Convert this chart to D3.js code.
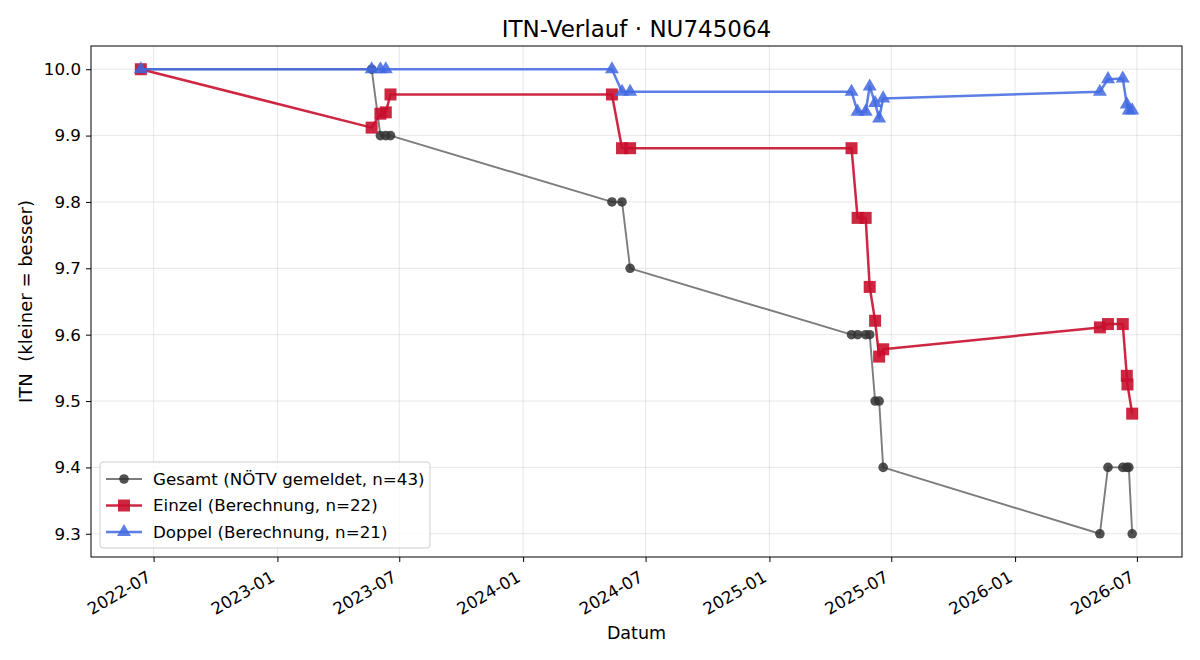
<!DOCTYPE html>
<html>
<head>
<meta charset="utf-8">
<script src="https://cdn.jsdelivr.net/npm/d3@7"></script>
<style>
  body { margin: 0; background: #fff; }
</style>
</head>
<body>
<svg id="chart" width="1200" height="660" font-family="DejaVu Sans"></svg>
<script>
// Gesamt (NÖTV gemeldet)
const gesamtDates = ['2022-06-12', '2023-05-21', '2023-06-03', '2023-06-11', '2023-06-18',
    '2024-05-12', '2024-05-27', '2024-06-08', '2025-05-03', '2025-05-12', '2025-05-24',
    '2025-05-30', '2025-06-07', '2025-06-13', '2025-06-19', '2026-05-07', '2026-05-19',
    '2026-06-10', '2026-06-16', '2026-06-19', '2026-06-24'];
const gesamtValues = [10.0, 10.0, 9.9, 9.9, 9.9,
    9.8, 9.8, 9.7, 9.6, 9.6, 9.6,
    9.6, 9.5, 9.5, 9.4, 9.3, 9.4,
    9.4, 9.4, 9.4, 9.3];

// Einzel (Berechnung)
const einzelDates = ['2022-06-12', '2023-05-21', '2023-06-03', '2023-06-11', '2023-06-18',
    '2024-05-12', '2024-05-27', '2024-06-08', '2025-05-03', '2025-05-12', '2025-05-24',
    '2025-05-30', '2025-06-07', '2025-06-13', '2025-06-19', '2026-05-07', '2026-05-19',
    '2026-06-10', '2026-06-16', '2026-06-17', '2026-06-24'];
const einzelValues = [10.0, 9.912, 9.933, 9.935, 9.962,
    9.962, 9.881, 9.881, 9.881, 9.776, 9.776,
    9.672, 9.621, 9.567, 9.578, 9.611, 9.616,
    9.616, 9.538, 9.525, 9.481];

// Doppel (Berechnung)
const doppelDates = ['2022-06-12', '2023-05-21', '2023-06-03', '2023-06-11',
    '2024-05-12', '2024-05-27', '2024-06-08', '2025-05-03', '2025-05-12', '2025-05-24',
    '2025-05-30', '2025-06-07', '2025-06-13', '2025-06-19', '2026-05-07', '2026-05-19',
    '2026-06-10', '2026-06-16', '2026-06-19', '2026-06-24'];
const doppelValues = [10.0, 10.0, 10.0, 10.0,
    10.0, 9.966, 9.966, 9.966, 9.936, 9.936,
    9.974, 9.949, 9.926, 9.956, 9.966, 9.985,
    9.986, 9.947, 9.938, 9.938];

const yTicks = [9.3, 9.4, 9.5, 9.6, 9.7, 9.8, 9.9, 10.0];
const xTickDates = ['2022-07-01', '2023-01-01', '2023-07-01', '2024-01-01', '2024-07-01',
    '2025-01-01', '2025-07-01', '2026-01-01', '2026-07-01'];

const FONT = 'DejaVu Sans, Liberation Sans, sans-serif';
const parse = d3.timeParse('%Y-%m-%d');
const toPoints = (dates, values) => dates.map((d, i) => ({ date: parse(d), value: values[i] }));

const series = [
    { label: 'Gesamt (NÖTV gemeldet, n=43)', points: toPoints(gesamtDates, gesamtValues),
      color: '#444444', markerColor: '#333333', opacity: 0.7, markerOpacity: 0.85,
      width: 1.9, marker: 'circle' },
    { label: 'Einzel (Berechnung, n=22)', points: toPoints(einzelDates, einzelValues),
      color: '#c8102e', markerColor: '#c8102e', opacity: 0.9, markerOpacity: 0.9,
      width: 2.5, marker: 'square' },
    { label: 'Doppel (Berechnung, n=21)', points: toPoints(doppelDates, doppelValues),
      color: '#4169e1', markerColor: '#4169e1', opacity: 0.85, markerOpacity: 0.85,
      width: 2.5, marker: 'triangle' }
];

const margin = { top: 46, right: 18, bottom: 103, left: 91 };
const width = 1200, height = 660;
const innerWidth = width - margin.left - margin.right;
const innerHeight = height - margin.top - margin.bottom;

const svg = d3.select('#chart');
const g = svg.append('g').attr('transform', `translate(${margin.left},${margin.top})`);

const xScale = d3.scaleTime()
    .domain([parse('2022-03-30'), parse('2026-09-06')])
    .range([0, innerWidth]);

const yScale = d3.scaleLinear()
    .domain([9.265, 10.035])
    .range([innerHeight, 0]);

// Grid
g.append('g')
    .selectAll('line.vgrid')
    .data(xTickDates.map(parse))
    .join('line')
    .attr('x1', d => xScale(d)).attr('x2', d => xScale(d))
    .attr('y1', 0).attr('y2', innerHeight)
    .attr('stroke', '#b0b0b0').attr('stroke-opacity', 0.3).attr('stroke-width', 1);

g.append('g')
    .selectAll('line.hgrid')
    .data(yTicks)
    .join('line')
    .attr('x1', 0).attr('x2', innerWidth)
    .attr('y1', d => yScale(d)).attr('y2', d => yScale(d))
    .attr('stroke', '#b0b0b0').attr('stroke-opacity', 0.3).attr('stroke-width', 1);

// Axes
const xAxis = g.append('g')
    .attr('transform', `translate(0,${innerHeight})`)
    .call(d3.axisBottom(xScale)
        .tickValues(xTickDates.map(parse))
        .tickFormat(d3.timeFormat('%Y-%m'))
        .tickSizeInner(5).tickSizeOuter(0));
xAxis.attr('font-family', FONT).attr('font-size', 16.7);
xAxis.select('.domain').remove();
xAxis.selectAll('line').attr('stroke', '#000').attr('stroke-width', 1);
xAxis.selectAll('text')
    .attr('fill', '#000')
    .attr('text-anchor', 'end')
    .attr('y', 0)
    .attr('dy', '0.72em')
    .attr('transform', 'translate(-8,13) rotate(-30)');

const yAxis = g.append('g')
    .call(d3.axisLeft(yScale)
        .tickValues(yTicks)
        .tickFormat(d3.format('.1f'))
        .tickSizeInner(5).tickSizeOuter(0)
        .tickPadding(5));
yAxis.attr('font-family', FONT).attr('font-size', 16.7);
yAxis.select('.domain').remove();
yAxis.selectAll('line').attr('stroke', '#000').attr('stroke-width', 1);
yAxis.selectAll('text').attr('fill', '#000');

// Frame
g.append('rect')
    .attr('width', innerWidth).attr('height', innerHeight)
    .attr('fill', 'none').attr('stroke', '#000').attr('stroke-width', 1);

// Marker shapes
const symbolFor = {
    circle: d3.symbol().type(d3.symbolCircle).size(Math.PI * 4.8 * 4.8),
    square: d3.symbol().type(d3.symbolSquare).size(12 * 12),
    triangle: d3.symbol().type(d3.symbolTriangle).size(85)
};

const line = d3.line()
    .x(d => xScale(d.date))
    .y(d => yScale(d.value));

series.forEach(s => {
    const sg = g.append('g');
    sg.append('path')
        .datum(s.points)
        .attr('d', line)
        .attr('fill', 'none')
        .attr('stroke', s.color)
        .attr('stroke-opacity', s.opacity)
        .attr('stroke-width', s.width)
        .attr('stroke-linejoin', 'round');
    sg.selectAll('path.marker')
        .data(s.points)
        .join('path')
        .attr('class', 'marker')
        .attr('d', symbolFor[s.marker])
        .attr('transform', d => `translate(${xScale(d.date)},${yScale(d.value)})`)
        .attr('fill', s.markerColor)
        .attr('fill-opacity', s.markerOpacity);
});

// Title and labels
svg.append('text')
    .attr('x', margin.left + innerWidth / 2)
    .attr('y', 37)
    .attr('text-anchor', 'middle')
    .attr('font-family', FONT)
    .attr('font-size', 23)
    .text('ITN-Verlauf · NU745064');

svg.append('text')
    .attr('x', margin.left + innerWidth / 2)
    .attr('y', 639)
    .attr('text-anchor', 'middle')
    .attr('font-family', FONT)
    .attr('font-size', 17.5)
    .text('Datum');

svg.append('text')
    .attr('transform', `translate(32,${margin.top + innerHeight / 2}) rotate(-90)`)
    .attr('text-anchor', 'middle')
    .attr('font-family', FONT)
    .attr('font-size', 18)
    .style('white-space', 'pre')
    .text('ITN  (kleiner = besser)');

// Legend
const legend = g.append('g').attr('transform', 'translate(9,416)');
legend.append('rect')
    .attr('width', 330).attr('height', 86)
    .attr('rx', 3)
    .attr('fill', '#fff').attr('fill-opacity', 0.8)
    .attr('stroke', '#cccccc').attr('stroke-width', 1);

series.forEach((s, i) => {
    const row = legend.append('g')
        .attr('transform', `translate(0,${17 + i * 26.5})`);
    row.append('line')
        .attr('x1', 6).attr('x2', 42)
        .attr('stroke', s.color).attr('stroke-opacity', s.opacity)
        .attr('stroke-width', s.width);
    row.append('path')
        .attr('d', symbolFor[s.marker])
        .attr('transform', 'translate(24,0)')
        .attr('fill', s.markerColor)
        .attr('fill-opacity', s.markerOpacity);
    legend.append('text')
        .attr('x', 53).attr('y', 17 + i * 26.5)
        .attr('dy', '0.35em')
        .attr('font-family', FONT)
        .attr('font-size', 16.7)
        .text(s.label);
});
</script>
</body>
</html>
